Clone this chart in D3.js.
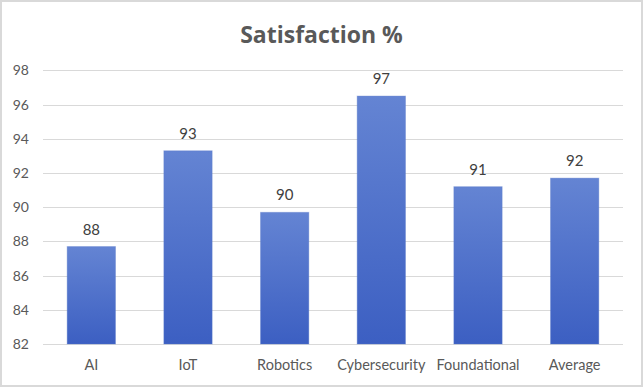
<!DOCTYPE html>
<html>
<head>
<meta charset="utf-8">
<script src="https://cdn.jsdelivr.net/npm/d3@7"></script>
<style>
  html, body { margin: 0; padding: 0; background: #fff; }
  svg { display: block; }
</style>
</head>
<body>
<svg id="chart"></svg>
<script>
// chart values
const categories = ["AI", "IoT", "Robotics", "Cybersecurity", "Foundational", "Average"]
const satisfaction = [87.7, 93.3, 89.7, 96.5, 91.2, 91.7]
const valueLabels = ["88", "93", "90", "97", "91", "92"]
const yTicks = [82, 84, 86, 88, 90, 92, 94, 96, 98]

const full_width = 643
const full_height = 387
const font = "Lato, 'Open Sans', sans-serif"

const svg = d3.select("#chart")
  .attr("width", full_width)
  .attr("height", full_height)

// outer frame
svg.append("rect")
  .attr("x", 1)
  .attr("y", 1)
  .attr("width", full_width - 2)
  .attr("height", full_height - 2)
  .attr("fill", "#fff")
  .attr("stroke", "#d9d9d9")
  .attr("stroke-width", 2)

// bar gradient
const grad = svg.append("defs").append("linearGradient")
  .attr("id", "bar-grad")
  .attr("x1", "0%").attr("y1", "0%")
  .attr("x2", "0%").attr("y2", "100%")
grad.append("stop").attr("offset", "0%").attr("stop-color", "#6484d3")
grad.append("stop").attr("offset", "100%").attr("stop-color", "#3c5fc2")

const plot = { left: 43, right: 623, top: 70.4, bottom: 344 }

const x = d3.scaleBand()
  .domain(categories)
  .range([plot.left, plot.right])
  .paddingInner(0.5)
  .paddingOuter(0.25)

const y = d3.scaleLinear()
  .domain([82, 98])
  .range([plot.bottom, plot.top])

// gridlines
svg.append("g")
  .selectAll("line")
  .data(yTicks)
  .enter()
  .append("line")
  .attr("x1", plot.left)
  .attr("x2", plot.right)
  .attr("y1", d => Math.round(y(d)) + 0.5)
  .attr("y2", d => Math.round(y(d)) + 0.5)
  .attr("stroke", "#d9d9d9")
  .attr("stroke-width", 1)

// y axis labels
const yaxis = d3.axisLeft(y).tickValues(yTicks).tickSize(0).tickPadding(14)
svg.append("g")
  .attr("transform", `translate(${plot.left}, 0)`)
  .call(yaxis)
  .call(g => g.select(".domain").remove())
  .selectAll("text")
  .attr("font-family", font)
  .attr("font-size", "14px")
  .attr("fill", "#595959")

// x axis labels
const xaxis = d3.axisBottom(x).tickSize(0).tickPadding(16)
svg.append("g")
  .attr("transform", `translate(0, ${plot.bottom})`)
  .call(xaxis)
  .call(g => g.select(".domain").remove())
  .selectAll("text")
  .attr("font-family", font)
  .attr("font-size", "14.5px")
  .attr("fill", "#595959")

// bars
svg.append("g")
  .selectAll("rect")
  .data(categories)
  .enter()
  .append("rect")
  .attr("x", d => x(d))
  .attr("y", (d, i) => y(satisfaction[i]))
  .attr("width", x.bandwidth())
  .attr("height", (d, i) => y(82) - y(satisfaction[i]))
  .attr("fill", "url(#bar-grad)")
  .attr("stroke", "#5a78c8")
  .attr("stroke-opacity", 0.35)
  .attr("stroke-width", 1)

// value labels
svg.append("g")
  .selectAll("text")
  .data(categories)
  .enter()
  .append("text")
  .attr("x", d => x(d) + x.bandwidth() / 2)
  .attr("y", (d, i) => y(satisfaction[i]) - 12)
  .attr("text-anchor", "middle")
  .attr("font-family", font)
  .attr("font-size", "15px")
  .attr("fill", "#404040")
  .text((d, i) => valueLabels[i])

// title
svg.append("text")
  .attr("x", full_width / 2)
  .attr("y", 43)
  .attr("text-anchor", "middle")
  .attr("font-family", "'Open Sans', sans-serif")
  .attr("font-weight", "bold")
  .attr("font-size", "23px")
  .attr("fill", "#595959")
  .text("Satisfaction %")
</script>
</body>
</html>
